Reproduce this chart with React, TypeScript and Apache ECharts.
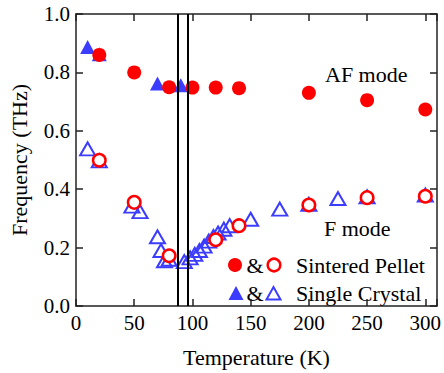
import React, { useEffect, useRef } from "react";
import * as echarts from "echarts";

// Sintered pellet, AF mode (filled circles)
const pelletAF_T = [20, 50, 80, 100, 120, 140, 200, 250, 300];
const pelletAF_f = [0.86, 0.8, 0.749, 0.748, 0.748, 0.746, 0.73, 0.705, 0.673];

// Sintered pellet, F mode (open circles)
const pelletF_T = [20, 50, 80, 120, 140, 200, 250, 300];
const pelletF_f = [0.499, 0.355, 0.172, 0.227, 0.275, 0.346, 0.371, 0.376];

// Single crystal, AF mode (filled triangles)
const crystalAF_T = [10, 20, 70, 90];
const crystalAF_f = [0.887, 0.862, 0.762, 0.756];

// Single crystal, F mode (open triangles)
const crystalF_T = [10, 20, 48, 55, 70, 73, 76, 80, 93, 98, 102, 106, 110, 114, 118, 122, 127, 132, 150, 175, 200, 225, 250, 300];
const crystalF_f = [0.538, 0.497, 0.342, 0.323, 0.237, 0.19, 0.155, 0.16, 0.152, 0.165, 0.177, 0.19, 0.205, 0.222, 0.238, 0.25, 0.263, 0.275, 0.297, 0.332, 0.348, 0.368, 0.374, 0.38];

// Transition temperatures (vertical lines)
const transitions = [87, 96];

const xTicks = [0, 50, 100, 150, 200, 250, 300];

const FONT = "Liberation Serif, serif";
const RED = "#ff0000";
const BLUE = "#3c3cff";
const AXIS = "#222";

const zip = (a: number[], b: number[]) => a.map((v, i) => [v, b[i]]);

export default function App() {
  const ref = useRef<HTMLDivElement>(null);
  useEffect(() => {
    if (!ref.current) return;
    const chart = echarts.init(ref.current, undefined, { renderer: "svg", width: 444, height: 373 });
    const axisCommon = {
      type: "value" as const,
      axisLine: { show: true, onZero: false, lineStyle: { color: AXIS, width: 1.5 } },
      axisTick: { show: true, inside: true, length: 7, lineStyle: { color: AXIS, width: 1.5 } },
      splitLine: { show: false },
    };
    const txt = (text: string, x: number, y: number, align = "left") => ({
      type: "text",
      x,
      y,
      style: { text, fontSize: 22, fontFamily: FONT, fill: "#000", align, verticalAlign: "middle" },
    });
    chart.setOption({
      animation: false,
      backgroundColor: "#fff",
      textStyle: { fontFamily: FONT },
      grid: { left: 74, top: 14, width: 366, height: 295 },
      xAxis: [
        {
          ...axisCommon,
          position: "bottom",
          min: 0,
          max: 310,
          interval: 50,
          axisLabel: {
            color: "#000",
            fontSize: 21,
            fontFamily: FONT,
            margin: 6,
            formatter: (v: number) => (xTicks.includes(v) ? String(v) : ""),
          },
          name: "Temperature (K)",
          nameLocation: "middle",
          nameGap: 40,
          nameTextStyle: { color: "#000", fontSize: 22, fontFamily: FONT },
        },
        {
          ...axisCommon,
          position: "top",
          min: 0,
          max: 310,
          interval: 50,
          axisLabel: { show: false },
        },
      ],
      yAxis: [
        {
          ...axisCommon,
          position: "left",
          min: 0,
          max: 1,
          interval: 0.2,
          axisLabel: {
            color: "#000",
            fontSize: 21,
            fontFamily: FONT,
            margin: 6,
            formatter: (v: number) => v.toFixed(1),
          },
          name: "Frequency (THz)",
          nameLocation: "middle",
          nameGap: 46,
          nameTextStyle: { color: "#000", fontSize: 22, fontFamily: FONT },
        },
        {
          ...axisCommon,
          position: "right",
          min: 0,
          max: 1,
          interval: 0.2,
          axisLabel: { show: false },
        },
      ],
      series: [
        {
          name: "Single Crystal F",
          type: "scatter",
          symbol: "triangle",
          symbolSize: [15, 13],
          itemStyle: { color: "transparent", borderColor: BLUE, borderWidth: 2, opacity: 1 },
          data: zip(crystalF_T, crystalF_f),
          z: 2,
          markLine: {
            silent: true,
            symbol: "none",
            label: { show: false },
            lineStyle: { color: "#000", width: 2, type: "solid", opacity: 1 },
            data: transitions.map((t) => ({ xAxis: t })),
          },
        },
        {
          name: "Single Crystal AF",
          type: "scatter",
          symbol: "triangle",
          symbolSize: [15, 14],
          itemStyle: { color: BLUE, opacity: 1 },
          data: zip(crystalAF_T, crystalAF_f),
          z: 3,
        },
        {
          name: "Sintered Pellet AF",
          type: "scatter",
          symbol: "circle",
          symbolSize: 14,
          itemStyle: { color: RED, opacity: 1 },
          data: zip(pelletAF_T, pelletAF_f),
          z: 4,
        },
        {
          name: "Sintered Pellet F",
          type: "scatter",
          symbol: "circle",
          symbolSize: 12.5,
          itemStyle: { color: "#fff", borderColor: RED, borderWidth: 2.5, opacity: 1 },
          data: zip(pelletF_T, pelletF_f),
          z: 5,
        },
      ],
      graphic: [
        txt("AF mode", 325, 74),
        txt("F mode", 324, 228),
        // legend row 1
        { type: "circle", shape: { cx: 235, cy: 265, r: 7 }, style: { fill: RED } },
        txt("&", 255, 265, "center"),
        { type: "circle", shape: { cx: 274, cy: 265, r: 6.3 }, style: { fill: "#fff", stroke: RED, lineWidth: 2.5 } },
        txt("Sintered Pellet", 296, 265),
        // legend row 2
        { type: "polygon", shape: { points: [[228.5, 300], [243.5, 300], [236, 286]] }, style: { fill: BLUE } },
        txt("&", 255, 293, "center"),
        { type: "polygon", shape: { points: [[266.5, 299.5], [280.5, 299.5], [273.5, 287]] }, style: { fill: "transparent", stroke: BLUE, lineWidth: 2 } },
        txt("Single Crystal", 296, 293),
      ],
    });
    return () => chart.dispose();
  }, []);
  return <div ref={ref} style={{ width: 444, height: 373, position: "absolute", left: 0, top: 0 }} />;
}
